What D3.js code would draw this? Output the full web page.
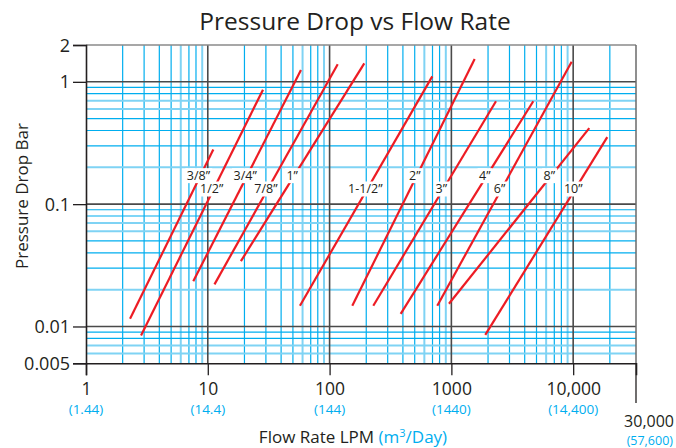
<!DOCTYPE html>
<html><head><meta charset="utf-8">
<script src="https://cdn.jsdelivr.net/npm/d3@7"></script>
<style>body{margin:0;background:#fff}svg{display:block}text{font-family:"Open Sans","Noto Sans",sans-serif}</style>
</head><body><svg id="c" width="676" height="448"></svg>
<script>
// ---- data ----
const pipeSizes = ["3/8”","1/2”","3/4”","7/8”","1”","1-1/2”","2”","3”","4”","6”","8”","10”"];
const flowStart = [2.30, 2.83, 7.60, 11.35, 18.7, 57.1, 153.6, 228.5, 383.5, 766, 955.6, 1898];
const dropStart = [0.01155, 0.00842, 0.0234, 0.0221, 0.0342, 0.01477, 0.01477, 0.01477, 0.01269, 0.01477, 0.01534, 0.00853];
const flowEnd   = [11.1, 28.4, 58.2, 116.6, 192.7, 697, 1553, 2324, 4704, 9720, 13560, 19050];
const dropEnd   = [0.2796, 0.863, 1.248, 1.39, 1.417, 1.108, 1.537, 0.694, 0.694, 1.46, 0.4183, 0.353];
const labelRows = [0.171, 0.133];            // pressure levels where size labels sit (alternating)
const xTickValues = [1, 10, 100, 1000, 10000];
const xTickLabels = ["1", "10", "100", "1000", "10,000"];
const xTickM3 = ["(1.44)", "(14.4)", "(144)", "(1440)", "(14,400)"];
const xEndLabel = "30,000", xEndM3 = "(57,600)";
const yTickValues = [2, 1, 0.1, 0.01, 0.005];
const yTickLabels = ["2", "1", "0.1", "0.01", "0.005"];
const xDomain = [1, 32800];   // right edge of the plot (labelled 30,000)
const yDomain = [0.005, 2];

// ---- layout ----
const L = 86, R = 636, T = 45, B = 363.3;
const x = d3.scaleLog().domain(xDomain).range([L, R]);
const y = d3.scaleLog().domain(yDomain).range([B, T]);
const svg = d3.select("#c");
const dark = "#231f20", cyan = "#00aeef", cyanLight = "#7fd3f4", red = "#ed1c24";

// minor grid
const xMinor = [], yMinor = [];
[1,10,100,1000,10000].forEach(d => { for (let m = 2; m <= 9; m++) { const v = m*d; if (v < 30000) xMinor.push({v, m}); } });
[0.001,0.01,0.1].forEach(d => { for (let m = 2; m <= 9; m++) { const v = +(m*d).toPrecision(3); if (v > yDomain[0] && v < 1) yMinor.push({v, m}); } });
const g = svg.append("g");
g.selectAll(".vx").data(xMinor).join("line")
  .attr("x1", d => x(d.v)).attr("x2", d => x(d.v)).attr("y1", T).attr("y2", B)
  .attr("stroke", d => (d.m === 6 || d.m === 9) ? cyanLight : cyan)
  .attr("stroke-width", d => (d.m === 6 || d.m === 9) ? 2 : 1.2);
g.selectAll(".hy").data(yMinor).join("line")
  .attr("x1", L).attr("x2", R).attr("y1", d => y(d.v)).attr("y2", d => y(d.v))
  .attr("stroke", d => (d.m === 2 || d.m === 6 || d.m === 7) ? cyanLight : cyan)
  .attr("stroke-width", d => (d.m === 2 || d.m === 6 || d.m === 7) ? 2 : 1.2);

// major grid
g.selectAll(".mx").data([10,100,1000,10000]).join("line")
  .attr("x1", d => x(d)).attr("x2", d => x(d)).attr("y1", T).attr("y2", B)
  .attr("stroke", "#4a4a4a").attr("stroke-width", 1.6);
g.selectAll(".my").data([0.01,0.1,1]).join("line")
  .attr("x1", L).attr("x2", R).attr("y1", d => y(d)).attr("y2", d => y(d))
  .attr("stroke", "#4a4a4a").attr("stroke-width", 1.6);
// borders
g.append("line").attr("x1", L).attr("x2", R).attr("y1", T).attr("y2", T).attr("stroke", "#8a8a8a").attr("stroke-width", 1.5);
g.append("line").attr("x1", R).attr("x2", R).attr("y1", T).attr("y2", B).attr("stroke", "#6a6a6a").attr("stroke-width", 1.5);

// axes
const yAxis = d3.axisLeft(y).tickValues(yTickValues).tickFormat((d,i) => yTickLabels[i]).tickSize(13).tickPadding(3);
const ya = svg.append("g").attr("transform", `translate(${L},0)`).call(yAxis);
ya.select(".domain").attr("stroke", dark).attr("stroke-width", 1.6);
ya.selectAll(".tick line").attr("stroke", dark).attr("stroke-width", 1.3);
ya.selectAll("text").attr("fill", dark).style("font-size", "18px").attr("dy", "0.34em");

const xAxis = d3.axisBottom(x).tickValues(xTickValues).tickFormat((d,i) => xTickLabels[i]).tickSize(12).tickPadding(7);
const xa = svg.append("g").attr("transform", `translate(0,${B})`).call(xAxis);
xa.select(".domain").attr("stroke", dark).attr("stroke-width", 1.6);
xa.selectAll(".tick line").attr("stroke", dark).attr("stroke-width", 1.3);
xa.selectAll("text").attr("fill", dark).style("font-size", "17.5px");
// m3/day sub labels
svg.selectAll(".m3").data(xTickValues).join("text")
  .attr("x", d => x(d)).attr("y", 414).attr("text-anchor", "middle")
  .attr("fill", cyan).style("font-size", "13.5px").text((d,i) => xTickM3[i]);
// end tick
svg.append("line").attr("x1", x(xDomain[1])).attr("x2", x(xDomain[1])).attr("y1", B).attr("y2", 403)
  .attr("stroke", dark).attr("stroke-width", 1.3);
svg.append("text").attr("x", 674).attr("y", 427).attr("text-anchor", "end")
  .attr("fill", dark).style("font-size", "16px").text(xEndLabel);
svg.append("text").attr("x", 673).attr("y", 445).attr("text-anchor", "end")
  .attr("fill", cyan).style("font-size", "12.5px").text(xEndM3);

// pipe lines
const lines = pipeSizes.map((s,i) => ({s, i, x1: flowStart[i], y1: dropStart[i], x2: flowEnd[i], y2: dropEnd[i]}));
svg.append("g").selectAll("line").data(lines).join("line")
  .attr("x1", d => x(d.x1)).attr("y1", d => y(d.y1)).attr("x2", d => x(d.x2)).attr("y2", d => y(d.y2))
  .attr("stroke", red).attr("stroke-width", 2.2).attr("stroke-linecap", "butt");

// labels
const lg = svg.append("g");
lines.forEach(d => {
  const yl = labelRows[d.i % 2];
  const t = (Math.log(yl) - Math.log(d.y1)) / (Math.log(d.y2) - Math.log(d.y1));
  const xl = Math.exp(Math.log(d.x1) + t * (Math.log(d.x2) - Math.log(d.x1)));
  const px = x(xl) - 2, py = y(yl);
  const tg = lg.append("g");
  const tx = tg.append("text").attr("x", px).attr("y", py).attr("dy", "0.35em").attr("text-anchor", "middle")
    .attr("fill", dark).style("font-size", "12.5px").text(d.s);
  const bb = tx.node().getBBox();
  tg.insert("rect", "text").attr("x", bb.x - 1.5).attr("y", py - 7.5).attr("width", bb.width + 3).attr("height", 15).attr("fill", "#fff");
});

// titles
svg.append("text").attr("x", 355).attr("y", 30).attr("text-anchor", "middle").attr("fill", dark)
  .style("font-size", "24.5px").text("Pressure Drop vs Flow Rate");
svg.append("text").attr("transform", "translate(28,196) rotate(-90)").attr("text-anchor", "middle").attr("fill", dark)
  .style("font-size", "17px").text("Pressure Drop Bar");
const xt = svg.append("text").attr("x", 353).attr("y", 443).attr("text-anchor", "middle").attr("fill", dark).style("font-size", "17px");
xt.append("tspan").text("Flow Rate LPM ");
xt.append("tspan").attr("fill", cyan).text("(m");
xt.append("tspan").attr("fill", cyan).attr("dy", -6).style("font-size", "11px").text("3");
xt.append("tspan").attr("fill", cyan).attr("dy", 6).text("/Day)");
</script></body></html>
